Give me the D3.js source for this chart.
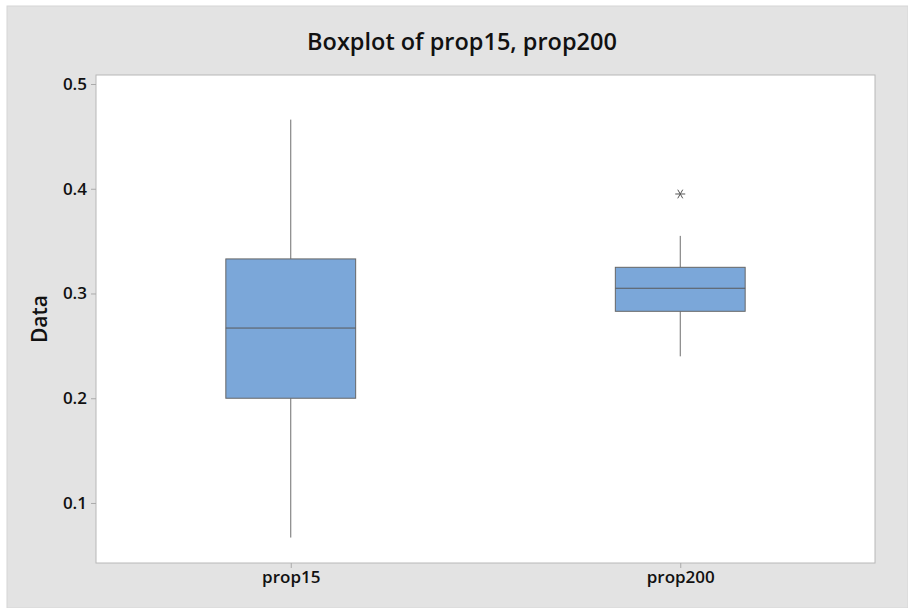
<!DOCTYPE html>
<html>
<head>
<meta charset="utf-8">
<script src="https://cdn.jsdelivr.net/npm/d3@7"></script>
<style>
  body { margin: 0; background: #fff; }
  svg { display: block; }
</style>
</head>
<body>
<svg id="chart"></svg>
<script>
// box summaries
const groups = ['prop15', 'prop200']
const q1 = [0.200, 0.283]
const medians = [0.267, 0.305]
const q3 = [0.333, 0.325]
const whiskerLow = [0.067, 0.240]
const whiskerHigh = [0.466, 0.355]
const outliers = [[], [0.395]]
const yTicks = [0.1, 0.2, 0.3, 0.4, 0.5]

const width = 908, height = 608
const margin = {left: 96, top: 75, right: 33, bottom: 45}
const plotW = width - margin.left - margin.right
const plotH = height - margin.top - margin.bottom
const font = "'Open Sans', 'Noto Sans', sans-serif"

const svg = d3.select('#chart')
  .attr('width', width)
  .attr('height', height)
  .attr('font-family', font)

// grey panel
svg.append('rect')
  .attr('x', 7).attr('y', 6)
  .attr('width', width - 7).attr('height', height - 6)
  .attr('fill', '#e3e3e3')
  .attr('stroke', '#d6d6d6')

svg.append('text')
  .attr('x', 462).attr('y', 50)
  .attr('text-anchor', 'middle')
  .attr('font-size', 23.5)
  .attr('font-weight', 600)
  .attr('fill', '#111')
  .text('Boxplot of prop15, prop200')

const g = svg.append('g').attr('transform', `translate(${margin.left},${margin.top})`)

g.append('rect')
  .attr('width', plotW).attr('height', plotH)
  .attr('fill', '#fff')
  .attr('stroke', '#b8b8b8')

const y = d3.scaleLinear().domain([0.0427, 0.5086]).range([plotH, 0])
const x = d3.scalePoint().domain(groups).range([0, plotW]).padding(0.5)
const boxW = x.step() / 3

// axes
const yAxis = g.append('g')
  .call(d3.axisLeft(y).tickValues(yTicks).tickSize(5).tickPadding(4).tickFormat(d3.format('.1f')))
yAxis.select('.domain').remove()
yAxis.selectAll('line').attr('stroke', '#aaa')
yAxis.selectAll('text')
  .attr('font-family', font).attr('font-size', 17).attr('font-weight', 600).attr('fill', '#111')

const xAxis = g.append('g')
  .attr('transform', `translate(0,${plotH})`)
  .call(d3.axisBottom(x).tickSize(5).tickPadding(3))
xAxis.select('.domain').remove()
xAxis.selectAll('line').attr('stroke', '#aaa')
xAxis.selectAll('text')
  .attr('font-family', font).attr('font-size', 17).attr('font-weight', 600).attr('fill', '#111')

svg.append('text')
  .attr('transform', `translate(47,319) rotate(-90)`)
  .attr('text-anchor', 'middle')
  .attr('font-size', 21)
  .attr('font-weight', 600)
  .attr('fill', '#111')
  .text('Data')

// boxes
const I = d3.range(groups.length)
const boxes = g.append('g')

boxes.selectAll('line.whisk-hi')
  .data(I)
  .join('line')
    .attr('class', 'whisk-hi')
    .attr('x1', i => x(groups[i])).attr('x2', i => x(groups[i]))
    .attr('y1', i => y(whiskerHigh[i])).attr('y2', i => y(q3[i]))
    .attr('stroke', '#6e6e6e')

boxes.selectAll('line.whisk-lo')
  .data(I)
  .join('line')
    .attr('class', 'whisk-lo')
    .attr('x1', i => x(groups[i])).attr('x2', i => x(groups[i]))
    .attr('y1', i => y(q1[i])).attr('y2', i => y(whiskerLow[i]))
    .attr('stroke', '#6e6e6e')

boxes.selectAll('rect')
  .data(I)
  .join('rect')
    .attr('x', i => x(groups[i]) - boxW / 2)
    .attr('y', i => y(q3[i]))
    .attr('width', boxW)
    .attr('height', i => y(q1[i]) - y(q3[i]))
    .attr('fill', '#7ba7d9')
    .attr('stroke', '#666')

boxes.selectAll('line.median')
  .data(I)
  .join('line')
    .attr('class', 'median')
    .attr('x1', i => x(groups[i]) - boxW / 2).attr('x2', i => x(groups[i]) + boxW / 2)
    .attr('y1', i => y(medians[i])).attr('y2', i => y(medians[i]))
    .attr('stroke', '#5a5a5a')

// outliers as asterisks
const outPts = I.flatMap(i => outliers[i].map(v => [i, v]))
const star = d3.symbol().type(d3.symbolAsterisk).size(70)
boxes.selectAll('path.outlier')
  .data(outPts)
  .join('path')
    .attr('class', 'outlier')
    .attr('transform', d => `translate(${x(groups[d[0]])},${y(d[1])}) rotate(90)`)
    .attr('d', star)
    .attr('fill', 'none')
    .attr('stroke', '#555')
</script>
</body>
</html>
